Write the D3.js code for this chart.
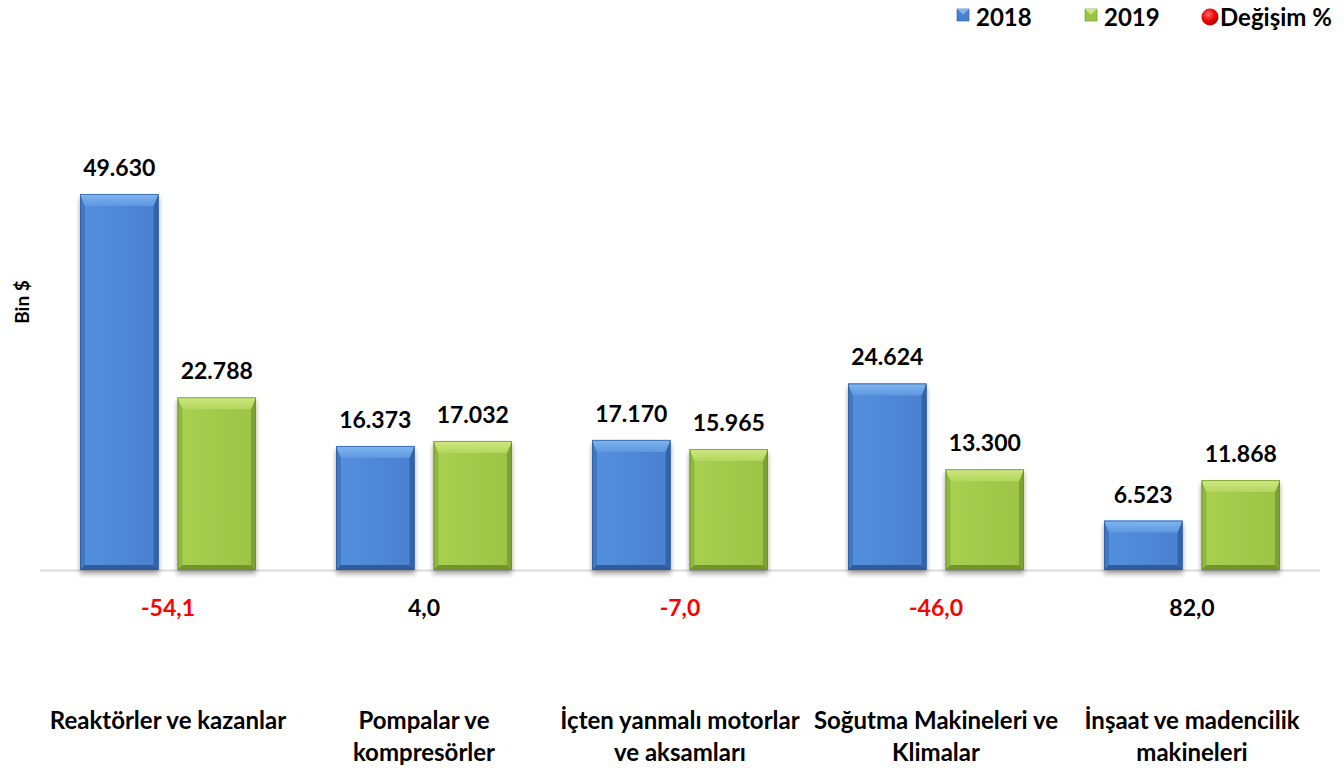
<!DOCTYPE html>
<html>
<head>
<meta charset="utf-8">
<script src="https://cdn.jsdelivr.net/npm/d3@7"></script>
<style>
  html, body { margin: 0; padding: 0; background: #ffffff; }
  svg { display: block; }
  text { font-family: Lato, "Open Sans", "DejaVu Sans", sans-serif; font-weight: 700; }
</style>
</head>
<body>
<svg id="chart" width="1344" height="768"></svg>
<script>
// ---------- data ----------
const categories = [
  "Reaktörler ve kazanlar",
  "Pompalar ve kompresörler",
  "İçten yanmalı motorlar ve aksamları",
  "Soğutma Makineleri ve Klimalar",
  "İnşaat ve madencilik makineleri"
];
const categoryLines = [
  ["Reaktörler ve kazanlar"],
  ["Pompalar ve", "kompresörler"],
  ["İçten yanmalı motorlar", "ve aksamları"],
  ["Soğutma Makineleri ve", "Klimalar"],
  ["İnşaat ve madencilik", "makineleri"]
];
const seriesNames = ["2018", "2019"];
const values2018 = [49630, 16373, 17170, 24624, 6523];
const values2019 = [22788, 17032, 15965, 13300, 11868];
const changePct = [-54.1, 4.0, -7.0, -46.0, 82.0];
const legendLabels = ["2018", "2019", "Değişim %"];
const yAxisTitle = "Bin $";

// ---------- setup ----------
const svg = d3.select("#chart");
const baseY = 570;

const x = d3.scaleBand().domain(categories).range([40, 1320]).paddingInner(0).paddingOuter(0);
const xs = d3.scaleBand().domain(seriesNames).range([0, x.bandwidth()]).paddingInner(0.194).paddingOuter(0.41);
const y = d3.scaleLinear().domain([0, 60000]).range([baseY, 115.4]);

const fmtTR = d3.formatLocale({decimal: ",", thousands: ".", grouping: [3], currency: ["", ""], minus: "-"});
const fmtInt = fmtTR.format(",.0f");
const fmtPct = fmtTR.format(".1f");

const palette = {
  "2018": {face: "#4a80cf", faceL: "#5490dd", top: "#80b6f0", topD: "#5f97e0", left: "#4177c4", right: "#3364ab", bottom: "#2f5c9e", stroke: "#2c5896"},
  "2019": {face: "#9bc445", faceL: "#a8d052", top: "#d0e882", topD: "#b2d75c", left: "#8fb83c", right: "#7ea133", bottom: "#72942c", stroke: "#6a8a2a"}
};

const defs = svg.append("defs");
const f = defs.append("filter").attr("id", "shadow").attr("x", "-20%").attr("y", "-20%").attr("width", "140%").attr("height", "140%");
f.append("feGaussianBlur").attr("in", "SourceAlpha").attr("stdDeviation", 2.5);
f.append("feOffset").attr("dx", 0).attr("dy", 4).attr("result", "ob");
f.append("feComponentTransfer").append("feFuncA").attr("type", "linear").attr("slope", 0.35);
const fm = f.append("feMerge");
fm.append("feMergeNode");
fm.append("feMergeNode").attr("in", "SourceGraphic");

seriesNames.forEach(s => {
  const p = palette[s];
  const g = defs.append("linearGradient").attr("id", "face" + s).attr("x1", 0).attr("x2", 1).attr("y1", 0).attr("y2", 0);
  g.append("stop").attr("offset", "0%").attr("stop-color", p.faceL);
  g.append("stop").attr("offset", "100%").attr("stop-color", p.face);
  const t = defs.append("linearGradient").attr("id", "top" + s).attr("x1", 0).attr("x2", 0).attr("y1", 0).attr("y2", 1);
  t.append("stop").attr("offset", "0%").attr("stop-color", p.top);
  t.append("stop").attr("offset", "100%").attr("stop-color", p.topD);
});

// axis baseline
svg.append("line")
  .attr("x1", x.range()[0]).attr("x2", x.range()[1])
  .attr("y1", baseY + 0.5).attr("y2", baseY + 0.5)
  .attr("stroke", "#d9d9d9").attr("stroke-width", 2);

// ---------- bars ----------
const barData = [];
categories.forEach((c, i) => {
  barData.push({cat: c, s: "2018", v: values2018[i]});
  barData.push({cat: c, s: "2019", v: values2019[i]});
});

const bars = svg.append("g").selectAll("g.bar").data(barData).join("g").attr("class", "bar")
  .attr("filter", "url(#shadow)");

bars.each(function(d) {
  const g = d3.select(this);
  const p = palette[d.s];
  const x0 = x(d.cat) + xs(d.s);
  const w = xs.bandwidth();
  const y0 = y(d.v);
  const h = y(0) - y0;
  const x1 = x0 + w, y1 = y0 + h;
  const bt = Math.min(12, h * 0.3), bs = 5, bb = 5;
  g.append("rect").attr("x", x0).attr("y", y0).attr("width", w).attr("height", h).attr("fill", "url(#face" + d.s + ")");
  g.append("polygon").attr("points", [[x0, y0], [x0 + bs, y0 + bt], [x0 + bs, y1 - bb], [x0, y1]].join(" ")).attr("fill", p.left);
  g.append("polygon").attr("points", [[x1, y0], [x1 - bs, y0 + bt], [x1 - bs, y1 - bb], [x1, y1]].join(" ")).attr("fill", p.right);
  g.append("polygon").attr("points", [[x0, y1], [x0 + bs, y1 - bb], [x1 - bs, y1 - bb], [x1, y1]].join(" ")).attr("fill", p.bottom);
  g.append("polygon").attr("points", [[x0, y0], [x1, y0], [x1 - bs, y0 + bt], [x0 + bs, y0 + bt]].join(" ")).attr("fill", "url(#top" + d.s + ")");
  g.append("rect").attr("x", x0 + 0.5).attr("y", y0 + 0.5).attr("width", w - 1).attr("height", h - 1)
    .attr("fill", "none").attr("stroke", p.stroke).attr("stroke-width", 1).attr("stroke-opacity", 0.7);
});

// value labels
svg.append("g").selectAll("text").data(barData).join("text")
  .attr("x", d => x(d.cat) + xs(d.s) + xs.bandwidth() / 2)
  .attr("y", d => y(d.v) - 18)
  .attr("text-anchor", "middle")
  .attr("font-size", 23)
  .attr("fill", "#000")
  .text(d => fmtInt(d.v));

// percent change labels
svg.append("g").selectAll("text").data(categories).join("text")
  .attr("x", d => x(d) + x.bandwidth() / 2)
  .attr("y", 616)
  .attr("text-anchor", "middle")
  .attr("font-size", 23)
  .attr("fill", (d, i) => changePct[i] < 0 ? "#ff0000" : "#000000")
  .text((d, i) => fmtPct(changePct[i]));

// category labels
const catG = svg.append("g").selectAll("text").data(categories).join("text")
  .attr("x", d => x(d) + x.bandwidth() / 2)
  .attr("y", 729)
  .attr("text-anchor", "middle")
  .attr("font-size", 24)
  .attr("fill", "#000");
catG.each(function(d, i) {
  const t = d3.select(this);
  categoryLines[i].forEach((ln, k) => {
    t.append("tspan").attr("x", x(d) + x.bandwidth() / 2).attr("dy", k === 0 ? 0 : 32).text(ln);
  });
});

// y axis title
svg.append("text")
  .attr("transform", "translate(29,302) rotate(-90)")
  .attr("text-anchor", "middle")
  .attr("font-size", 19)
  .attr("fill", "#000")
  .text(yAxisTitle);

// ---------- legend ----------
const leg = svg.append("g");
const legX = [957, 1085, 1202];
[0, 1].forEach(i => {
  const s = seriesNames[i];
  const p = palette[s];
  const lx = legX[i], ly = 9, sz = 12;
  leg.append("rect").attr("x", lx).attr("y", ly).attr("width", sz).attr("height", sz).attr("fill", p.face).attr("stroke", p.stroke).attr("stroke-width", 0.6);
  leg.append("polygon").attr("points", [[lx, ly], [lx + sz, ly], [lx + sz / 2, ly + sz * 0.45]].join(" ")).attr("fill", p.top);
  leg.append("text").attr("x", lx + 19).attr("y", 26).attr("font-size", 24).attr("fill", "#000").text(legendLabels[i]);
});
const rg = defs.append("radialGradient").attr("id", "redball").attr("cx", "40%").attr("cy", "35%").attr("r", "65%");
rg.append("stop").attr("offset", "0%").attr("stop-color", "#ff6a6a");
rg.append("stop").attr("offset", "60%").attr("stop-color", "#f00000");
rg.append("stop").attr("offset", "100%").attr("stop-color", "#b00000");
leg.append("circle").attr("cx", legX[2] + 8).attr("cy", 17).attr("r", 8.5).attr("fill", "url(#redball)");
leg.append("text").attr("x", legX[2] + 18).attr("y", 26).attr("font-size", 24).attr("fill", "#000").text(legendLabels[2]);
</script>
</body>
</html>
